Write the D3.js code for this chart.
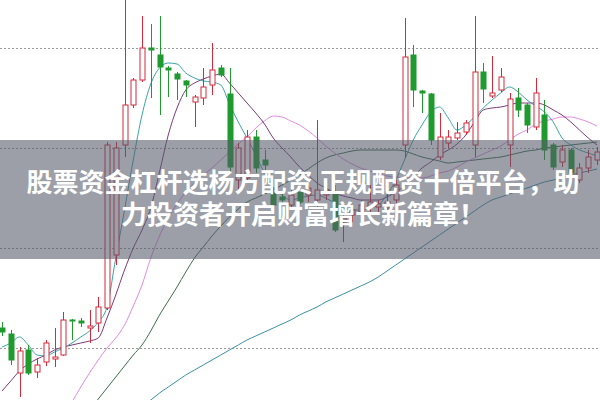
<!DOCTYPE html>
<html><head><meta charset="utf-8">
<script src="https://cdn.jsdelivr.net/npm/d3@7"></script>
<style>html,body{margin:0;padding:0;background:#fff;}svg{display:block;}</style>
</head><body>
<svg id="c" width="600" height="400"></svg>
<script>
const open  = [5.20,5.14,4.75,4.98,4.76,4.86,4.89,4.93,5.28,5.27,5.20,5.25,5.40,5.93,7.03,7.43,7.68,8.00,7.93,7.80,7.74,7.67,7.46,7.50,7.63,7.80,7.54,6.68,6.70,7.11,6.88,6.55,6.51,6.43,6.56,6.53,6.48,6.53,6.56,6.26,6.33,6.36,6.41,6.41,6.40,6.48,7.03,7.93,7.57,7.54,6.91,7.05,7.10,7.16,7.03,7.76,7.52,7.58,7.03,7.50,7.43,7.21,7.33,7.03,6.86,6.98,6.68,6.80,6.88];
const high  = [5.26,5.18,5.01,5.03,4.90,5.08,5.20,5.36,5.29,5.30,5.38,5.51,7.06,7.06,8.51,7.70,8.32,8.24,8.32,7.82,7.76,7.68,7.53,7.80,8.05,7.83,7.80,7.05,7.18,7.18,6.98,6.61,6.55,6.58,6.58,6.63,7.28,6.63,6.63,6.33,6.43,6.48,6.63,6.48,6.55,6.68,8.30,8.03,7.58,7.55,7.35,7.18,7.26,7.28,8.32,7.85,7.92,7.80,7.55,7.60,7.45,7.70,7.48,7.05,7.03,7.00,6.85,6.98,7.01];
const low   = [5.12,4.83,4.51,4.73,4.70,4.82,4.81,4.92,5.08,5.21,5.05,5.16,5.38,5.83,6.91,7.40,7.66,7.50,7.33,7.51,7.48,7.51,7.21,7.43,7.53,7.71,6.76,6.55,6.66,6.75,6.70,6.38,6.45,6.41,6.44,6.46,6.41,6.48,6.16,6.06,6.26,6.23,6.36,6.36,6.35,6.43,6.90,7.41,7.35,7.03,6.88,7.00,7.08,7.13,6.91,7.45,7.50,7.56,6.81,7.31,7.15,7.18,6.88,6.78,6.81,6.72,6.65,6.75,6.83];
const close = [5.16,4.88,4.97,4.75,4.83,5.05,4.91,5.28,5.27,5.25,5.22,5.41,7.03,7.00,7.43,7.68,8.00,7.98,7.81,7.78,7.69,7.63,7.51,7.61,7.78,7.73,6.81,7.00,7.11,6.80,6.83,6.43,6.48,6.53,6.46,6.60,6.58,6.58,6.18,6.30,6.38,6.43,6.46,6.44,6.46,6.63,7.91,7.58,7.55,7.08,7.11,7.11,7.15,7.25,7.76,7.59,7.55,7.71,7.49,7.38,7.23,7.55,6.98,6.81,6.98,6.75,6.80,6.91,6.96];

const ma5  = [5.01,5.05,5.11,5.03,4.93,4.92,4.96,5.00,5.05,5.11,5.17,5.26,5.41,5.90,6.38,6.88,7.33,7.64,7.80,7.85,7.84,7.75,7.70,7.67,7.66,7.63,7.44,7.26,7.10,6.93,6.75,6.61,6.53,6.48,6.50,6.52,6.53,6.50,6.45,6.40,6.38,6.38,6.40,6.43,6.53,6.68,6.88,7.08,7.23,7.36,7.41,7.30,7.18,7.23,7.31,7.40,7.48,7.55,7.61,7.56,7.48,7.42,7.36,7.26,7.10,7.03,6.98,6.95,6.92];
const ma10 = [4.57,4.67,4.77,4.84,4.89,4.93,4.98,5.01,5.03,5.05,5.07,5.10,5.30,5.53,5.78,6.00,6.18,6.40,6.76,7.13,7.40,7.58,7.65,7.69,7.72,7.74,7.65,7.55,7.45,7.35,7.24,7.10,7.00,6.91,6.81,6.73,6.65,6.60,6.55,6.52,6.50,6.48,6.48,6.48,6.51,6.56,6.62,6.71,6.80,6.86,6.93,6.98,7.04,7.13,7.26,7.38,7.40,7.41,7.43,7.45,7.45,7.45,7.43,7.38,7.33,7.26,7.18,7.10,7.03];
const ma20 = [null,null,null,null,null,null,4.18,4.33,4.46,4.61,4.75,4.88,5.00,5.10,5.23,5.42,5.63,5.90,6.12,6.30,6.44,6.56,6.65,6.73,6.80,6.88,6.96,7.04,7.11,7.20,7.27,7.32,7.31,7.27,7.23,7.17,7.10,7.02,6.95,6.89,6.84,6.80,6.77,6.74,6.72,6.71,6.70,6.70,6.70,6.72,6.75,6.77,6.81,6.86,6.90,6.94,6.98,7.02,7.08,7.14,7.18,7.24,7.27,7.29,7.31,7.31,7.29,7.26,7.22];
const ma30 = [null,null,null,null,null,null,null,null,null,null,4.38,4.49,4.60,4.71,4.82,4.93,5.03,5.17,5.33,5.47,5.61,5.76,5.90,6.01,6.12,6.22,6.31,6.39,6.46,6.50,6.54,6.58,6.63,6.68,6.73,6.79,6.85,6.90,6.93,6.95,6.97,6.98,6.98,6.98,6.98,6.98,6.97,6.94,6.91,6.89,6.87,6.85,6.86,6.87,6.88,6.89,6.90,6.91,6.93,6.95,6.97,6.98,7.00,7.01,7.02,7.03,7.04,7.05,7.06];
const ma60 = [null,null,null,null,null,null,null,null,null,null,null,null,null,null,null,null,4.43,4.48,4.55,4.61,4.67,4.73,4.78,4.83,4.88,4.93,4.98,5.03,5.08,5.12,5.16,5.20,5.24,5.28,5.33,5.37,5.41,5.46,5.50,5.54,5.58,5.62,5.66,5.71,5.77,5.83,5.89,5.95,6.01,6.07,6.13,6.19,6.25,6.31,6.37,6.43,6.48,6.51,6.54,6.57,6.60,6.63,6.66,6.68,6.70,6.73,6.75,6.77,6.79];

const gridLevels = [8, 7, 6, 5];
const titleLines = ["股票资金杠杆选杨方配资 正规配资十倍平台，助", "力投资者开启财富增长新篇章！"];

const W = 600, H = 400;
const svg = d3.select("#c");
const x = d3.scaleLinear().domain([0, open.length - 1]).range([2, 597]);
const y = d3.scaleLinear().domain([4.48, 8.48]).range([H, 0]);

svg.append("defs").append("clipPath").attr("id","clip")
  .append("rect").attr("width",W).attr("height",H);
const g = svg.append("g").attr("clip-path","url(#clip)");

g.selectAll("line.grid").data(gridLevels).join("line")
  .attr("x1",0).attr("x2",W)
  .attr("y1",d=>Math.round(y(d))+0.5).attr("y2",d=>Math.round(y(d))+0.5)
  .attr("stroke","#9a9a9a").attr("stroke-width",1).attr("stroke-dasharray","2,2");

const lines = [
  {v: ma60, c: "#3d8fa3"},
  {v: ma30, c: "#3b6e4c"},
  {v: ma20, c: "#e38be3"},
  {v: ma10, c: "#7d3a78"},
  {v: ma5,  c: "#3aa3a8"}
];
lines.forEach(L => {
  const ln = d3.line().defined(d => d != null).x((d,i)=>x(i)).y(d=>y(d)).curve(d3.curveMonotoneX);
  g.append("path").datum(L.v).attr("d", ln).attr("fill","none")
   .attr("stroke", L.c).attr("stroke-width", 1);
});

const RED = "#d42a3c", GREEN = "#1f9a2e";
const idx = d3.range(open.length);
const cg = g.selectAll("g.candle").data(idx).join("g");
cg.append("line")
  .attr("x1", i=>Math.round(x(i))+0.5).attr("x2", i=>Math.round(x(i))+0.5)
  .attr("y1", i=>y(high[i])).attr("y2", i=>y(low[i]))
  .attr("stroke", i=> close[i] >= open[i] ? RED : GREEN).attr("stroke-width",1);
cg.append("rect")
  .attr("x", i=>Math.round(x(i))-2)
  .attr("width", 5)
  .attr("y", i=>y(Math.max(open[i],close[i])))
  .attr("height", i=>Math.max(1, Math.abs(y(open[i])-y(close[i]))))
  .attr("fill", i=> close[i] >= open[i] ? "#ffffff" : GREEN)
  .attr("stroke", i=> close[i] >= open[i] ? RED : GREEN)
  .attr("stroke-width",1);

// banner overlay
svg.append("rect").attr("x",0).attr("y",140).attr("width",W).attr("height",119)
  .attr("fill","rgb(85,90,105)").attr("fill-opacity",0.58);
svg.selectAll("text.t").data(titleLines).join("text")
  .attr("x", 303).attr("y",(d,i)=>183 + i*32)
  .attr("text-anchor","middle").attr("dominant-baseline","central")
  .attr("fill","#ffffff").attr("font-weight","bold")
  .attr("font-family","'Liberation Sans', 'Noto Sans CJK SC', sans-serif").attr("font-size",26)
  .text(d=>d);
</script>
</body></html>
